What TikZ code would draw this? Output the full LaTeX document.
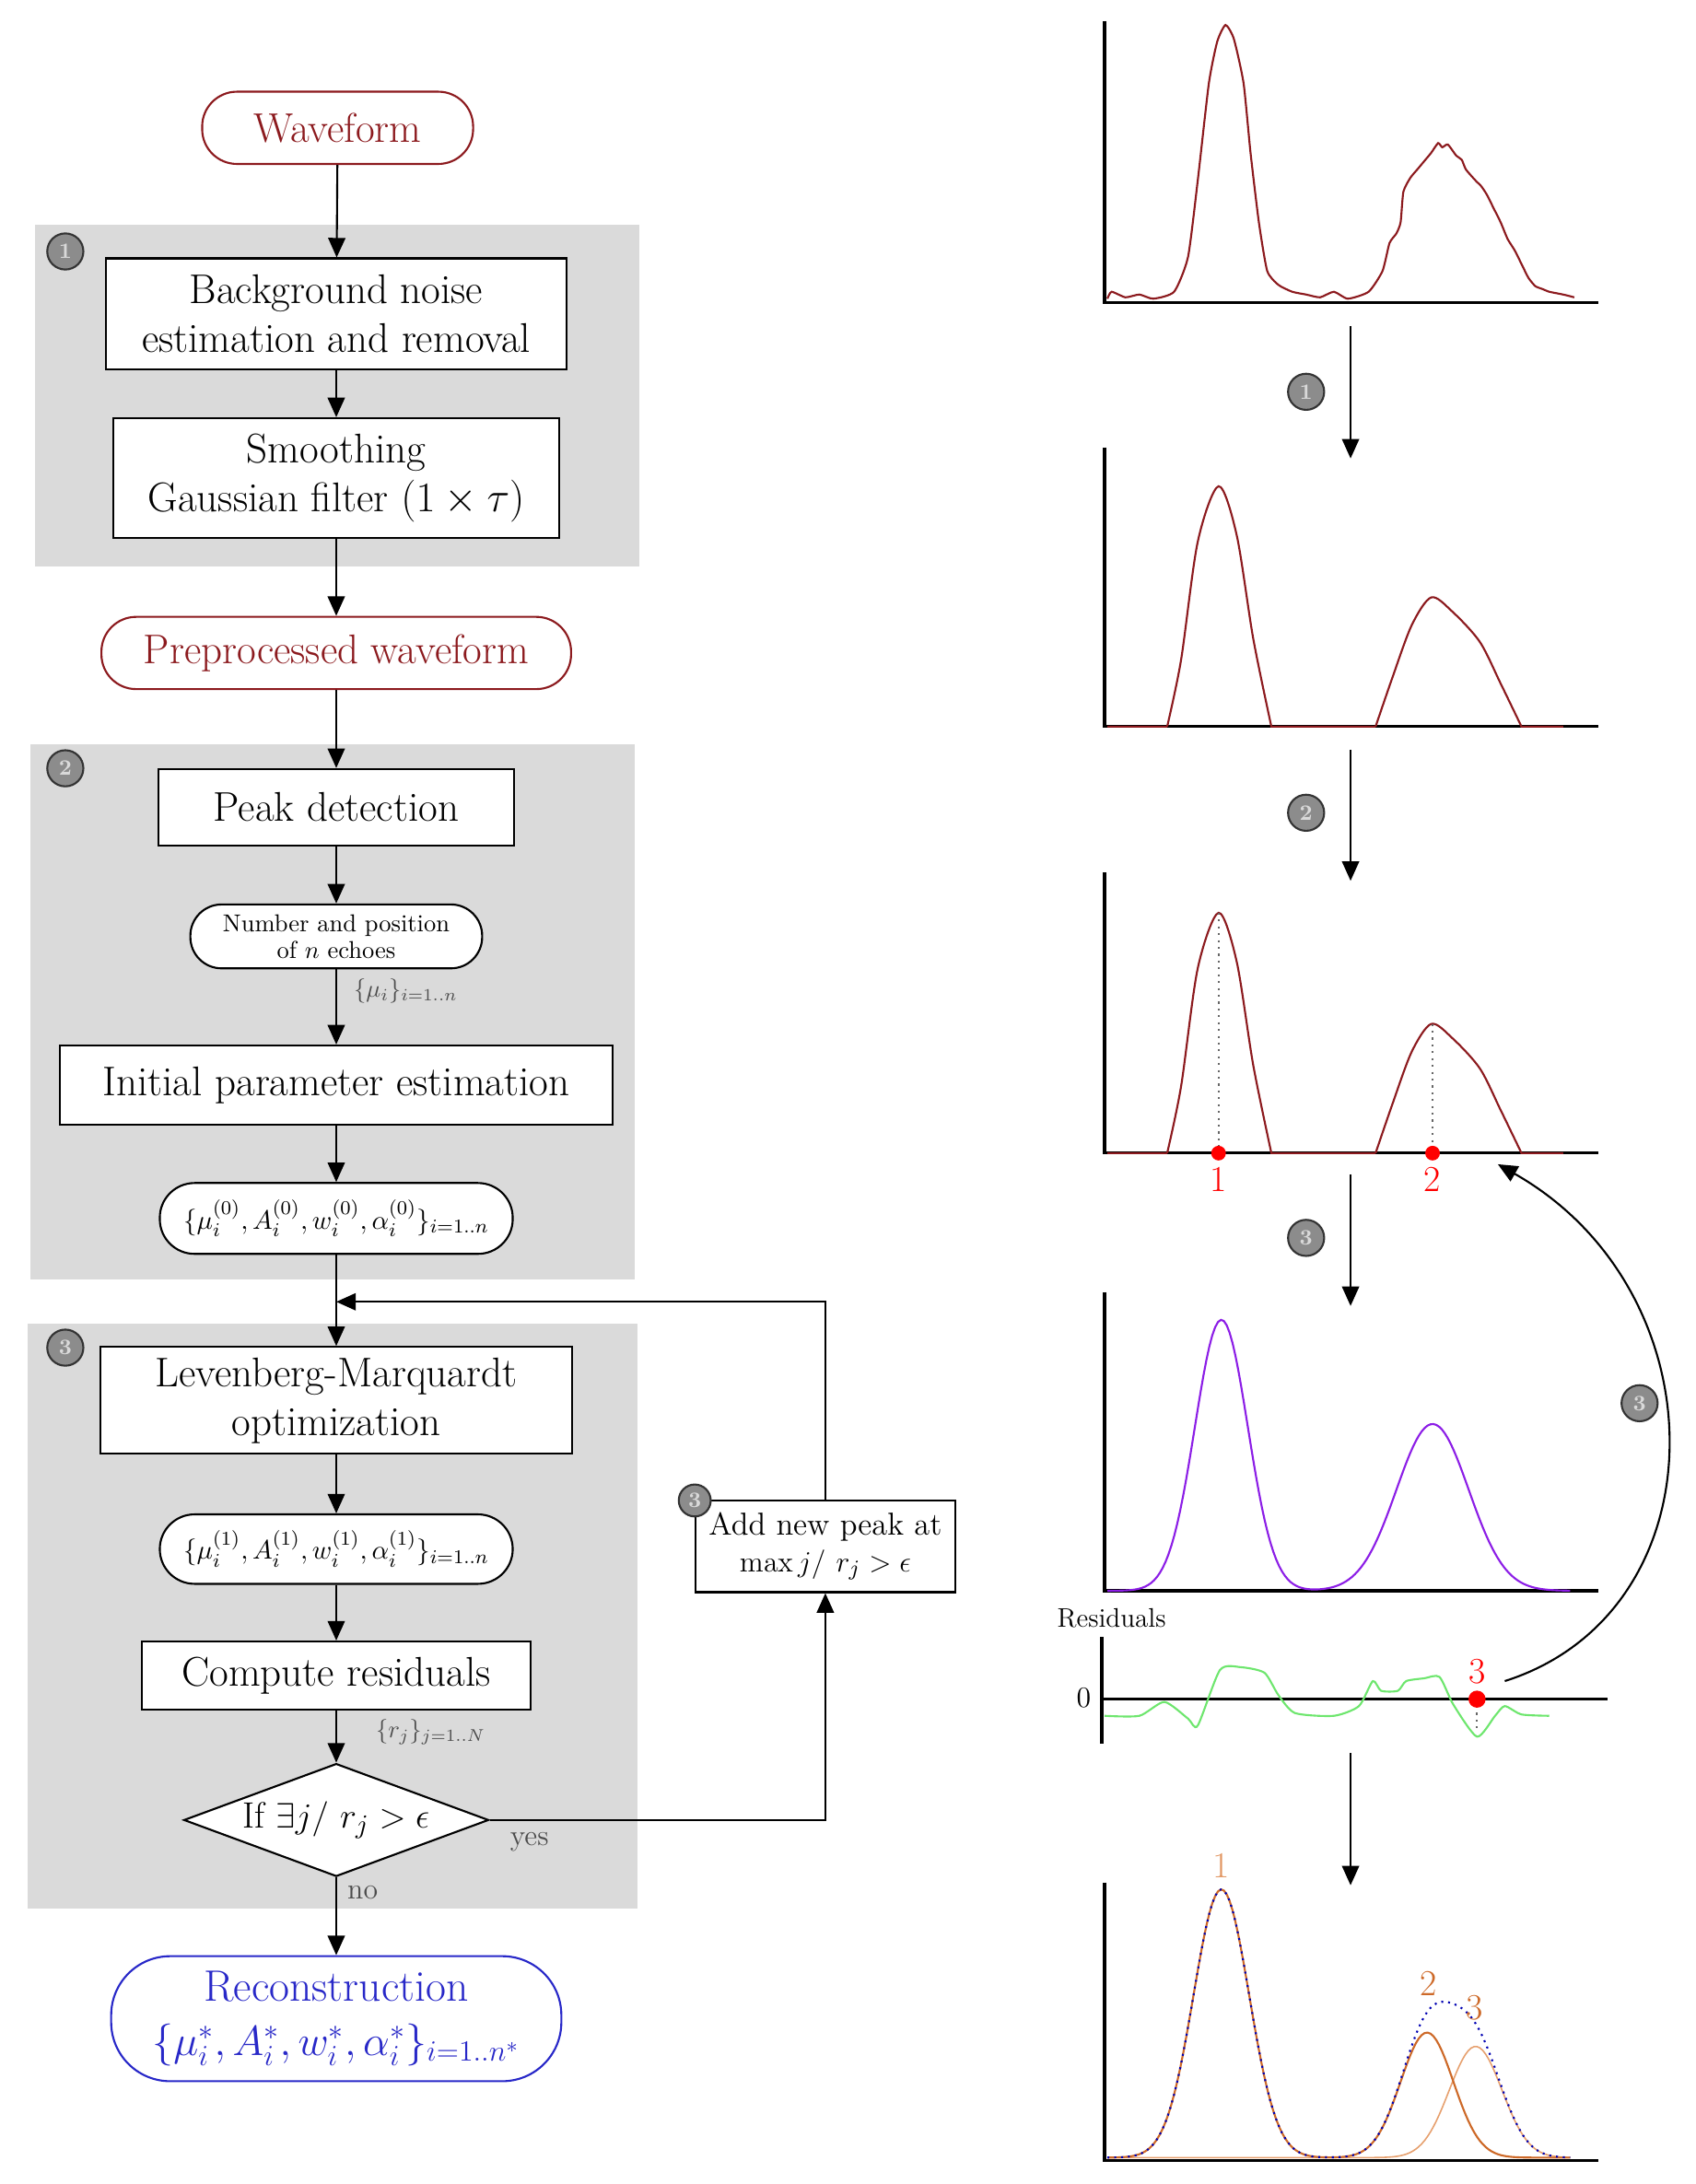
\documentclass[tikz,border=0pt]{standalone}
\usepackage{amsmath,amssymb}
\usetikzlibrary{shapes.geometric,arrows.meta}
\definecolor{dred}{RGB}{140,26,30}
\definecolor{gbox}{RGB}{218,218,218}
\definecolor{rblue}{RGB}{40,40,200}
\definecolor{purp}{RGB}{140,30,230}
\definecolor{gre}{RGB}{110,230,110}
\definecolor{ora}{RGB}{205,105,40}
\definecolor{lora}{RGB}{230,160,110}
\begin{document}
\begin{tikzpicture}[x=0.02cm,y=-0.02cm,
 box/.style={draw,thick,fill=white,font=\fontsize{17}{20}\selectfont,align=center,inner sep=0},
 pill/.style={draw,thick,fill=white,rounded corners=14pt,align=center,inner sep=0},
 badge/.style={circle,draw=black!80,thick,fill=black!45,text=black!15,inner sep=0,minimum size=0.52cm,font=\small\bfseries},
 arr/.style={thick,-{Triangle[length=8pt,width=7pt]}},
 lab/.style={font=\fontsize{10}{12}\selectfont,text=black!70}]
\useasboundingbox (0,0) rectangle (1220,1572);
% gray panels
\fill[gbox] (25,162) rectangle (460,408);
\fill[gbox] (22,536) rectangle (457,921);
\fill[gbox] (20,953) rectangle (459,1374);
\node[badge] (b1) at (47,181) {1};
\node[badge] (b2) at (47,553) {2};
\node[badge] (b3) at (47,970) {3};
% nodes
\node[pill,draw=dred,text=dred,minimum width=195*0.02cm,minimum height=52*0.02cm,rounded corners=0.5cm,font=\fontsize{17}{20}\selectfont] (wf) at (243,92) {Waveform};
\node[box,minimum width=331*0.02cm,minimum height=80*0.02cm] (bg) at (242,226) {Background noise\\estimation and removal};
\node[box,minimum width=321*0.02cm,minimum height=86*0.02cm] (sm) at (242,344) {Smoothing\\Gaussian filter $(1\times\tau)$};
\node[pill,draw=dred,text=dred,minimum width=338*0.02cm,minimum height=52*0.02cm,rounded corners=0.5cm,font=\fontsize{17}{20}\selectfont] (pp) at (242,470) {Preprocessed waveform};
\node[box,minimum width=256*0.02cm,minimum height=55*0.02cm] (pd) at (242,581) {Peak detection};
\node[pill,minimum width=210*0.02cm,minimum height=46*0.02cm,rounded corners=0.45cm,font=\fontsize{10}{11}\selectfont] (np) at (242,674) {Number and position\\of $n$ echoes};
\node[box,minimum width=398*0.02cm,minimum height=57*0.02cm] (ip) at (242,781) {Initial parameter estimation};
\node[pill,minimum width=254*0.02cm,minimum height=51*0.02cm,rounded corners=0.5cm,font=\fontsize{11}{12}\selectfont] (p0) at (242,877) {$\{\mu_i^{(0)},A_i^{(0)},w_i^{(0)},\alpha_i^{(0)}\}_{i=1..n}$};
\coordinate (j) at (242,937);
\node[box,minimum width=339*0.02cm,minimum height=77*0.02cm] (lm) at (242,1008) {Levenberg-Marquardt\\optimization};
\node[pill,minimum width=254*0.02cm,minimum height=50*0.02cm,rounded corners=0.5cm,font=\fontsize{11}{12}\selectfont] (p1) at (242,1115) {$\{\mu_i^{(1)},A_i^{(1)},w_i^{(1)},\alpha_i^{(1)}\}_{i=1..n}$};
\node[box,minimum width=280*0.02cm,minimum height=49*0.02cm] (cr) at (242,1206) {Compute residuals};
\node[diamond,draw,thick,fill=white,aspect=2.7,inner sep=1pt,minimum width=198*0.02cm,minimum height=74*0.02cm,font=\fontsize{15}{17}\selectfont] (dd) at (242,1310) {If $\exists j/\ r_j>\epsilon$};
\node[pill,draw=rblue,text=rblue,minimum width=324*0.02cm,minimum height=90*0.02cm,rounded corners=0.85cm,font=\fontsize{18}{22}\selectfont] (rc) at (242,1453) {Reconstruction\\$\{\mu_i^*,A_i^*,w_i^*,\alpha_i^*\}_{i=1..n^*}$};
\node[box,minimum width=187*0.02cm,minimum height=66*0.02cm,font=\fontsize{13}{15}\selectfont] (an) at (594,1113) {Add new peak at\\$\max j/\ r_j>\epsilon$};
\node[badge,minimum size=0.46cm] (b4) at (500,1080) {3};
% labels
\node[lab] (l1) at (292,713) {$\{\mu_i\}_{i=1..n}$};
\node[lab] (l2) at (310,1247) {$\{r_j\}_{j=1..N}$};
\node[lab,font=\fontsize{12}{14}\selectfont] (ly) at (381,1326) {yes};
\node[lab,font=\fontsize{12}{14}\selectfont] (ln) at (261,1362) {no};
% arrows
\draw[arr] (wf) -- (bg);
\draw[arr] (bg) -- (sm);
\draw[arr] (sm) -- (pp);
\draw[arr] (pp) -- (pd);
\draw[arr] (pd) -- (np);
\draw[arr] (np) -- (ip);
\draw[arr] (ip) -- (p0);
\draw[arr] (p0) -- (lm);
\draw[arr] (lm) -- (p1);
\draw[arr] (p1) -- (cr);
\draw[arr] (cr) -- (dd);
\draw[arr] (dd) -- (rc);
\draw[arr] (dd.east) -| (an.south);
\draw[arr] (an.north) |- (j);
% ---------- right plots ----------
\tikzset{ax/.style={line width=1.2pt}}
% plot 1
\draw[ax] (795,15) -- (795,218) -- (1150,218);
\draw[dred,thick] plot[smooth,tension=0.35] coordinates {(797,215)(800,210)(810,214)(820,212)(830,215)(845,210)(855,185)(862,130)(870,60)(876,30)(882,18)(888,28)(895,60)(900,110)(906,160)(912,195)(920,205)(930,210)(940,212)(950,214)(960,210)(970,215)(985,210)(995,195)(1000,175)(1005,168)(1008,160)(1010,138)(1015,128)(1020,122)(1025,116)(1030,110)(1035,103)(1038,106)(1042,104)(1048,112)(1052,115)(1055,122)(1062,130)(1066,134)(1070,140)(1075,150)(1080,160)(1085,172)(1090,180)(1095,190)(1100,200)(1105,206)(1110,208)(1115,210)(1125,212)(1133,214)};
\node[badge] (r1) at (940,282) {1};
\coordinate (a1s) at (972,235); \coordinate (a1e) at (972,330);
\draw[arr] (a1s) -- (a1e);
% plot 2
\draw[ax] (795,322) -- (795,523) -- (1150,523);
\draw[dred,thick] (797,523) -- (840,523) plot[smooth] coordinates {(840,523)(850,475)(862,390)(877,350)(890,385)(902,460)(915,523)} -- (990,523) plot[smooth] coordinates {(990,523)(1002,488)(1016,450)(1030,430)(1045,440)(1065,462)(1080,492)(1095,523)} -- (1125,523);
\node[badge] (r2) at (940,585) {2};
\coordinate (a2s) at (972,540); \coordinate (a2e) at (972,634);
\draw[arr] (a2s) -- (a2e);
% plot 3
\draw[ax] (795,628) -- (795,830) -- (1150,830);
\draw[dred,thick] (797,830) -- (840,830) plot[smooth] coordinates {(840,830)(850,782)(862,697)(877,657)(890,692)(902,767)(915,830)} -- (990,830) plot[smooth] coordinates {(990,830)(1002,795)(1016,757)(1030,737)(1045,747)(1065,769)(1080,799)(1095,830)} -- (1125,830);
\draw[black!60,thick,dotted] (877,657) -- (877,830) (1031,737) -- (1031,830);
\fill[red] (877,830) circle (3pt) (1031,830) circle (3pt);
\node[text=red,font=\fontsize{15}{17}\selectfont] (n1) at (877,849) {1};
\node[text=red,font=\fontsize{15}{17}\selectfont] (n2) at (1031,849) {2};
\node[badge] (r3) at (940,891) {3};
\coordinate (a3s) at (972,845); \coordinate (a3e) at (972,940);
\draw[arr] (a3s) -- (a3e);
% plot 4
\draw[ax] (795,930) -- (795,1145) -- (1150,1145);
\draw[purp,thick] plot[domain=797:1130,samples=160] (\x,{1145-195*exp(-0.5*((\x-879)/19)^2)-120*exp(-0.5*((\x-1031)/26)^2)});
% residuals
\node[font=\fontsize{11}{13}\selectfont] (rl) at (800,1165) {Residuals};
\draw[ax] (793,1178) -- (793,1255);
\draw[ax] (793,1223) -- (1157,1223);
\node[font=\fontsize{12}{14}\selectfont] (z0) at (780,1222) {0};
\draw[gre,thick] plot[smooth,tension=0.4] coordinates {(795,1235)(820,1235)(838,1225)(855,1237)(862,1242)(878,1202)(893,1200)(910,1204)(920,1220)(932,1233)(960,1235)(978,1228)(988,1210)(994,1217)(1006,1217)(1012,1210)(1025,1208)(1036,1207)(1046,1227)(1063,1250)(1076,1235)(1083,1228)(1095,1234)(1115,1235)};
\draw[black!60,thick,dotted] (1063,1223) -- (1063,1247);
\fill[red] (1063,1223) circle (3.5pt);
\node[text=red,font=\fontsize{15}{17}\selectfont] (n3) at (1063,1203) {3};
\coordinate (cs) at (1083,1210); \coordinate (ce) at (1078,838);
\draw[arr] (cs) .. controls (1240,1160) and (1240,930) .. (ce);
\node[badge] (r4) at (1180,1010) {3};
\coordinate (a4s) at (972,1262); \coordinate (a4e) at (972,1357);
\draw[arr] (a4s) -- (a4e);
% plot 5
\draw[ax] (795,1355) -- (795,1555) -- (1150,1555);
\draw[lora,semithick] plot[domain=797:1130,samples=160] (\x,{1553-80*exp(-0.5*((\x-1062)/19)^2)});
\draw[ora,thick] plot[domain=797:1130,samples=160] (\x,{1553-193*exp(-0.5*((\x-879)/20)^2)-90*exp(-0.5*((\x-1027)/19)^2)});
\draw[blue!70!black,thick,dotted] plot[domain=797:1130,samples=160] (\x,{1553-193*exp(-0.5*((\x-879)/20)^2)-90*exp(-0.5*((\x-1027)/19)^2)-80*exp(-0.5*((\x-1062)/19)^2)});
\node[text=lora!80!ora,font=\fontsize{15}{17}\selectfont] (m1) at (879,1343) {1};
\node[text=ora,font=\fontsize{15}{17}\selectfont] (m2) at (1028,1428) {2};
\node[text=ora,font=\fontsize{15}{17}\selectfont] (m3) at (1061,1445) {3};
\end{tikzpicture}
\end{document}
